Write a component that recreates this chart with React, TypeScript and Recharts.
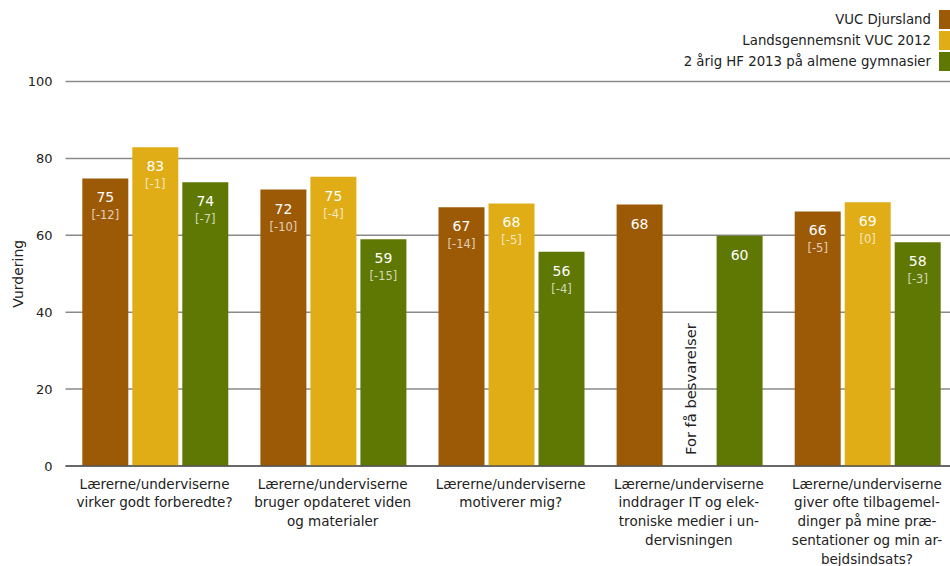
import React from 'react';
import { BarChart, Bar, XAxis, YAxis, CartesianGrid, LabelList, Label, ReferenceDot } from 'recharts';

const categories = [
  'Lærerne/underviserne virker godt forberedte?',
  'Lærerne/underviserne bruger opdateret viden og materialer',
  'Lærerne/underviserne motiverer mig?',
  'Lærerne/underviserne inddrager IT og elektroniske medier i undervisningen',
  'Lærerne/underviserne giver ofte tilbagemeldinger på mine præsentationer og min arbejdsindsats?',
];

// hyphenated line breaks as in the original
const tickLines = [
  ['Lærerne/underviserne', 'virker godt forberedte?'],
  ['Lærerne/underviserne', 'bruger opdateret viden', 'og materialer'],
  ['Lærerne/underviserne', 'motiverer mig?'],
  ['Lærerne/underviserne', 'inddrager IT og elek-', 'troniske medier i un-', 'dervisningen'],
  ['Lærerne/underviserne', 'giver ofte tilbagemel-', 'dinger på mine præ-', 'sentationer og min ar-', 'bejdsindsats?'],
];

const vucDjursland = [74.8, 71.9, 67.3, 68.0, 66.2];
const landsgennemsnit = [82.9, 75.2, 68.3, null, 68.6];
const hf2013 = [73.8, 59.0, 55.7, 59.9, 58.2];

const vucDiff = [-12, -10, -14, null, -5];
const landsDiff = [-1, -4, -5, null, 0];
const hfDiff = [-7, -15, -4, null, -3];

const yTicks = [0, 20, 40, 60, 80, 100];
const noteIndex = 3;
const noteText = 'For få besvarelser';

const series = [
  { key: 'vuc', name: 'VUC Djursland', color: '#9c5a06' },
  { key: 'lands', name: 'Landsgennemsnit VUC 2012', color: '#e0ad16' },
  { key: 'hf', name: '2 årig HF 2013 på almene gymnasier', color: '#5f7804' },
];

const data = categories.map((name, i) => ({
  name,
  vuc: vucDjursland[i],
  lands: landsgennemsnit[i],
  hf: hf2013[i],
  vucDiff: vucDiff[i],
  landsDiff: landsDiff[i],
  hfDiff: hfDiff[i],
}));

const FONT = '"DejaVu Sans", Verdana, sans-serif';

const CategoryTick = (props: any) => {
  const { x, y, payload } = props;
  const idx = categories.indexOf(payload.value);
  const lines = idx >= 0 ? tickLines[idx] : [payload.value];
  return (
    <text x={x} y={y} textAnchor="middle" fill="#222" fontSize={13.5} fontFamily={FONT}>
      {lines.map((line, i) => (
        <tspan key={i} x={x} dy={i === 0 ? 20.5 : 18.8}>
          {line}
        </tspan>
      ))}
    </text>
  );
};

// value is "rounded|diff" built by the accessor below
const BarValueLabel = (props: any) => {
  const { value } = props;
  if (value === null || value === undefined || value === '') return null;
  const [v, d] = String(value).split('|');
  const vb = props.viewBox || {};
  const x = vb.x ?? props.x;
  const y = vb.y ?? props.y;
  const width = vb.width ?? props.width;
  const cx = x + width / 2;
  return (
    <g>
      <text x={cx} y={y + 19} textAnchor="middle" dominantBaseline="central" fill="#fff" fontSize={14} fontFamily={FONT}>
        {v}
      </text>
      {d !== undefined && d !== '' && (
        <text x={cx} y={y + 37} textAnchor="middle" dominantBaseline="central" fill="#fff" fillOpacity={0.72} fontSize={11.5} fontFamily={FONT}>
          [{d}]
        </text>
      )}
    </g>
  );
};

const makeAccessor = (key: string) => (entry: any) => {
  const p = entry && entry.payload ? entry.payload : entry;
  const v = p ? p[key] : null;
  if (v === null || v === undefined) return '';
  const d = p[key + 'Diff'];
  return `${Math.round(v)}|${d === null || d === undefined ? '' : d}`;
};

const NoteLabel = (props: any) => {
  const vb = props.viewBox || {};
  const cx = vb.x + (vb.width || 0) / 2 + 1.5;
  const cy = vb.y + (vb.height || 0) / 2 - 11;
  return (
    <text
      x={cx}
      y={cy}
      transform={`rotate(-90, ${cx}, ${cy})`}
      textAnchor="start"
      dominantBaseline="central"
      fill="#222"
      fontSize={14.7}
      fontFamily={FONT}
    >
      {noteText}
    </text>
  );
};

const YLabel = (props: any) => {
  const vb = props.viewBox || {};
  const cx = vb.x + 18;
  const cy = vb.y + vb.height / 2;
  return (
    <text
      x={cx}
      y={cy}
      transform={`rotate(-90, ${cx}, ${cy})`}
      textAnchor="middle"
      dominantBaseline="central"
      fill="#222"
      fontSize={14}
      fontFamily={FONT}
    >
      Vurdering
    </text>
  );
};

const App = () => {
  return (
    <div style={{ position: 'absolute', left: 0, top: 0, width: 950, height: 566, overflow: 'hidden', background: '#fff' }}>
      <BarChart
        width={956}
        height={566}
        data={data}
        margin={{ top: 81.5, right: 0, left: 0, bottom: 0 }}
        barCategoryGap={16.8}
        barGap={4}
      >
        <CartesianGrid vertical={false} stroke="#8a8a8a" strokeWidth={1.5} />
        <XAxis
          dataKey="name"
          height={100}
          tick={<CategoryTick />}
          tickLine={false}
          tickSize={0}
          axisLine={{ stroke: '#555', strokeWidth: 1.5 }}
          interval={0}
        />
        <YAxis
          width={65.5}
          domain={[0, 100]}
          ticks={yTicks}
          axisLine={false}
          tickLine={false}
          tickSize={0}
          tickMargin={13}
          tick={{ fill: '#222', fontSize: 13, fontFamily: FONT }}
        >
          <Label content={<YLabel />} />
        </YAxis>
        {series.map((s) => (
          <Bar key={s.key} dataKey={s.key} name={s.name} fill={s.color} isAnimationActive={false}>
            <LabelList valueAccessor={makeAccessor(s.key)} content={<BarValueLabel />} />
          </Bar>
        ))}
        <ReferenceDot x={categories[noteIndex]} y={0} r={0} ifOverflow="visible" label={<NoteLabel />} />
      </BarChart>
      <div style={{ position: 'absolute', top: 10, right: 0, fontFamily: FONT, fontSize: 13.3, color: '#222' }}>
        {series.map((s) => (
          <div key={s.key} style={{ display: 'flex', alignItems: 'center', justifyContent: 'flex-end', height: 19, marginBottom: 2 }}>
            <span style={{ marginRight: 8 }}>{s.name}</span>
            <span style={{ display: 'inline-block', width: 11, height: 19, background: s.color }} />
          </div>
        ))}
      </div>
    </div>
  );
};

export default App;
